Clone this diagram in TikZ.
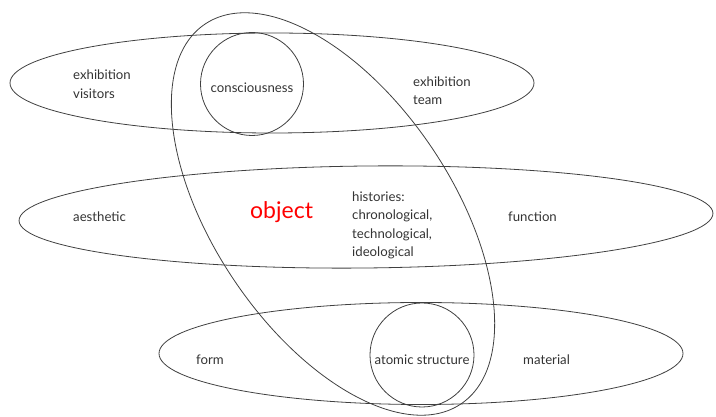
\documentclass[tikz,border=0pt]{standalone}
\usepackage{fontspec}
\setmainfont{Lato}
\begin{document}
\begin{tikzpicture}[x=1pt,y=1pt,
  shape line/.style={draw=black!75, line width=0.8pt},
  lbl/.style={font=\fontsize{13.2}{18.5}\selectfont, text=black!80, inner sep=0pt, align=left},
  redlbl/.style={font=\fontsize{23}{24}\selectfont, text=red, inner sep=0pt}]
\useasboundingbox (0,0) rectangle (716,417);
% ellipses and circles
\draw[shape line] (272,334) ellipse [x radius=262, y radius=50];
\draw[shape line] (252,333) circle [radius=51.5];
\draw[shape line, rotate around={0.6:(366,200)}] (366,200) ellipse [x radius=347, y radius=51];
\draw[shape line] (421,63.5) ellipse [x radius=262, y radius=51];
\draw[shape line] (422,62) circle [radius=52];
\draw[shape line, rotate around={-56:(333,203)}] (333,203) ellipse [x radius=229, y radius=119];
% labels
\node[lbl, anchor=west] (visitors) at (73,333) {exhibition\\visitors};
\node[lbl] (consc) at (252,329) {consciousness};
\node[lbl, anchor=west] (team) at (413,326.5) {exhibition\\team};
\node[lbl, anchor=west] (aesth) at (73,200) {aesthetic};
\node[redlbl, anchor=west] (obj) at (250,205) {object};
\node[lbl, anchor=west] (hist) at (352,191.5) {histories:\\chronological,\\technological,\\ideological};
\node[lbl, anchor=west] (func) at (508,200) {function};
\node[lbl, anchor=west] (form) at (196,57) {form};
\node[lbl] (atomic) at (422,57) {atomic structure};
\node[lbl, anchor=west] (mat) at (523,57) {material};
\end{tikzpicture}
\end{document}
